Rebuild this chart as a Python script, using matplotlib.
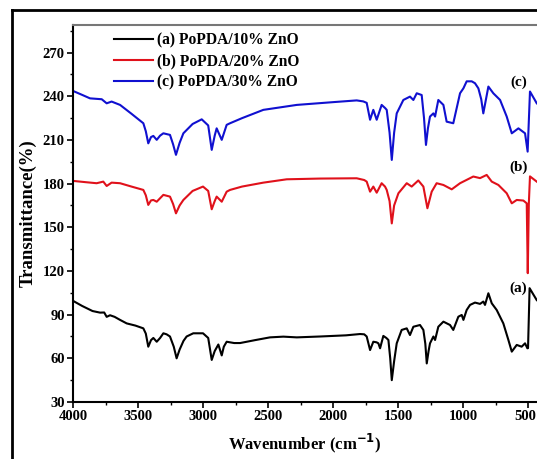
import matplotlib
matplotlib.use("Agg")
import matplotlib.pyplot as plt
import matplotlib.transforms as mtransforms
from matplotlib.lines import Line2D
from matplotlib.ticker import MultipleLocator

# FTIR spectra of PoPDA/ZnO composites
labels = ["(a) PoPDA/10% ZnO", "(b) PoPDA/20% ZnO", "(c) PoPDA/30% ZnO"]
colors = ["black", "#e0111b", "#1010d0"]
tags = ["(a)", "(b)", "(c)"]

wn_a = [4000, 3930, 3850, 3792, 3760, 3741, 3715, 3680, 3638, 3587, 3520, 3459, 3440, 3421,
        3400, 3382, 3356, 3330, 3305, 3280, 3254, 3225, 3203, 3180, 3150, 3126, 3075, 3000,
        2960, 2933, 2910, 2882, 2856, 2840, 2818, 2760, 2715, 2600, 2485, 2382, 2279, 2100,
        1900, 1792, 1760, 1741, 1715, 1690, 1665, 1651, 1638, 1613, 1590, 1574, 1560, 1548,
        1530, 1510, 1472, 1433, 1408, 1382, 1331, 1305, 1290, 1279, 1265, 1254, 1228, 1215,
        1190, 1151, 1100, 1075, 1036, 1010, 997, 972, 946, 908, 869, 844, 831, 805, 779, 741,
        690, 651, 625, 587, 549, 523, 505, 500, 488, 460, 433]
t_a = [99.5, 96, 92.5, 91.4, 91.5, 88.5, 89.6, 88.5, 86.4, 84, 82.5, 80.6, 77, 68,
       72.5, 74, 71.4, 74, 77.2, 76.5, 75, 68, 60, 66, 72, 75, 77.2, 77.2,
       74, 58.9, 65, 69.5, 62, 68, 71.4, 70.5, 70.5, 72.5, 74.4, 74.9, 74.4, 75,
       75.8, 76.7, 76.5, 75, 65.7, 71.4, 71, 70.3, 66.9, 75.4, 74, 72.6, 60, 45,
       58, 70.3, 79.5, 80.6, 76, 81.7, 82.9, 79.5, 70, 56.5, 65, 70.3, 75, 72.6,
       81.7, 85.2, 82.9, 79.5, 88.6, 89.8, 86.4, 93.2, 96.7, 98.3, 97.4, 99, 96.7, 104.7, 97.8, 93.2,
       84, 72.6, 64.6, 69.2, 68, 70.3, 66.9, 67, 108.2, 104, 100]

wn_b = [4000, 3900, 3818, 3767, 3741, 3703, 3670, 3638, 3550, 3459, 3440, 3421, 3400, 3382,
        3356, 3330, 3305, 3254, 3230, 3208, 3180, 3151, 3080, 3000, 2960, 2933, 2910, 2895,
        2856, 2818, 2792, 2700, 2536, 2356, 2100, 1818, 1760, 1741, 1715, 1690, 1664, 1626,
        1600, 1587, 1565, 1548, 1530, 1497, 1433, 1395, 1344, 1305, 1274, 1241, 1203, 1151,
        1087, 1023, 972, 921, 869, 818, 779, 728, 664, 625, 587, 536, 510, 502, 494, 485, 433]
t_b = [181.9, 181, 180.3, 181.4, 178.4, 180.7, 180.5, 180.3, 178, 175.7, 172, 165.4, 168.5, 168.8,
       167.6, 170, 172.3, 171.1, 166, 159.6, 165, 168.8, 175, 178, 175, 162.4, 168, 171.1,
       167.6, 174.5, 175.7, 178, 180.7, 183, 183.5, 183.7, 182.5, 181.4, 174.5, 178, 173.8, 180.3,
       178, 175.7, 168, 152.7, 165, 173.4, 180.3, 178, 182.2, 178, 163.1, 174.5, 180.3, 179.1,
       176.1, 180.3, 182.6, 184.9, 183.8, 186, 181.4, 179.1, 173.4, 166.5, 168.8, 168.4, 166.5, 118.5, 166, 185, 181.4]

wn_c = [4000, 3930, 3869, 3779, 3741, 3703, 3638, 3550, 3459, 3440, 3421, 3400, 3382, 3356,
        3330, 3305, 3254, 3230, 3208, 3180, 3151, 3080, 3010, 2960, 2933, 2910, 2895, 2856,
        2818, 2792, 2700, 2536, 2279, 2000, 1818, 1767, 1741, 1715, 1690, 1664, 1626, 1600,
        1587, 1565, 1548, 1530, 1510, 1459, 1408, 1382, 1356, 1318, 1300, 1285, 1270, 1254,
        1228, 1215, 1190, 1151, 1126, 1075, 1023, 997, 972, 933, 908, 882, 860, 844, 805,
        767, 715, 664, 625, 574, 523, 503, 493, 485, 433]
t_c = [243.7, 241, 238.6, 238, 235.2, 236.4, 234.1, 228, 221.5, 216, 207.7, 212, 212.8, 210.1,
       213, 214.6, 213.5, 207, 199.8, 208, 214.6, 221, 224.2, 220, 203.2, 213, 218, 210.1,
       220.4, 221.5, 225, 230.7, 234.1, 236, 237.2, 236.5, 235.5, 223.9, 230.7, 223.9, 234.1, 232,
       230.7, 215, 196.3, 215, 228.3, 237.5, 239.8, 237.5, 242.1, 240.9, 225, 206.6, 218, 226.1,
       228.3, 226.1, 237.5, 234.1, 222.6, 221.5, 242.1, 245.5, 250.3, 250.3, 249, 245.5, 238, 228.3, 246.7,
       242.1, 237.5, 226.1, 214.6, 218, 214.6, 202, 225, 243.3, 235.2]

x_ticks = [4000, 3500, 3000, 2500, 2000, 1500, 1000, 500]
y_ticks = [30, 60, 90, 120, 150, 180, 210, 240, 270]

serif = "Liberation Serif"
plt.rcParams["font.family"] = serif
plt.rcParams["font.weight"] = "bold"

fig = plt.figure(figsize=(5.37, 4.59), dpi=100)
ax = fig.add_axes([73 / 537, 57 / 459, 1 - 73 / 537, (402 - 25) / 459])

series = [(wn_a, t_a), (wn_b, t_b), (wn_c, t_c)]
for (wn, t), c, lab in zip(series, colors, labels):
    ax.plot(wn, t, color=c, lw=1.5, label=lab, solid_joinstyle="round")

ax.set_xlim(4000, 431)
ax.set_ylim(30, 289)
ax.set_xticks(x_ticks)
ax.set_yticks(y_ticks)
ax.xaxis.set_minor_locator(MultipleLocator(250))
ax.yaxis.set_minor_locator(MultipleLocator(15))
ax.tick_params(which="major", direction="out", length=4, width=1.2, labelsize=10.5, pad=2)
ax.tick_params(which="minor", direction="out", length=2.5, width=1.0)
for lbl in ax.get_xticklabels() + ax.get_yticklabels():
    lbl.set_fontweight("bold")

# keep the last wavenumber label inside the panel edge
last = ax.get_xticklabels()[-1]
last.set_transform(last.get_transform() +
                   mtransforms.ScaledTranslation(-3 / 100, 0, fig.dpi_scale_trans))

ax.spines["left"].set_linewidth(1.5)
ax.spines["bottom"].set_linewidth(1.5)
ax.spines["top"].set_color("#777777")
ax.spines["top"].set_linewidth(1.5)
ax.spines["right"].set_visible(False)

ax.set_xlabel("Wavenumber (cm$^{\\mathbf{-1}}$)", fontsize=12, fontweight="bold", labelpad=6)
ax.set_ylabel("Transmittance(%)", fontsize=13.5, fontweight="bold", labelpad=4)

leg = ax.legend(loc="upper left", bbox_to_anchor=(0.065, 1.01), frameon=False,
                prop={"family": serif, "weight": "bold", "size": 11.2},
                handlelength=2.5, handletextpad=0.25, labelspacing=0.32, borderaxespad=0.3)

tag_pos = [(575, 108), (575, 191.5), (575, 250)]
for tag, (x, y) in zip(tags, tag_pos):
    ax.text(x, y, tag, fontsize=11, fontweight="bold", ha="center", va="center")

# outer frame around the figure panel
fig.add_artist(Line2D([12 / 537, 12 / 537], [0, 1 - 10 / 459], transform=fig.transFigure,
                      color="black", lw=2))
fig.add_artist(Line2D([12 / 537, 1], [1 - 10 / 459, 1 - 10 / 459], transform=fig.transFigure,
                      color="black", lw=2))

fig.savefig("out.png", dpi=100)
